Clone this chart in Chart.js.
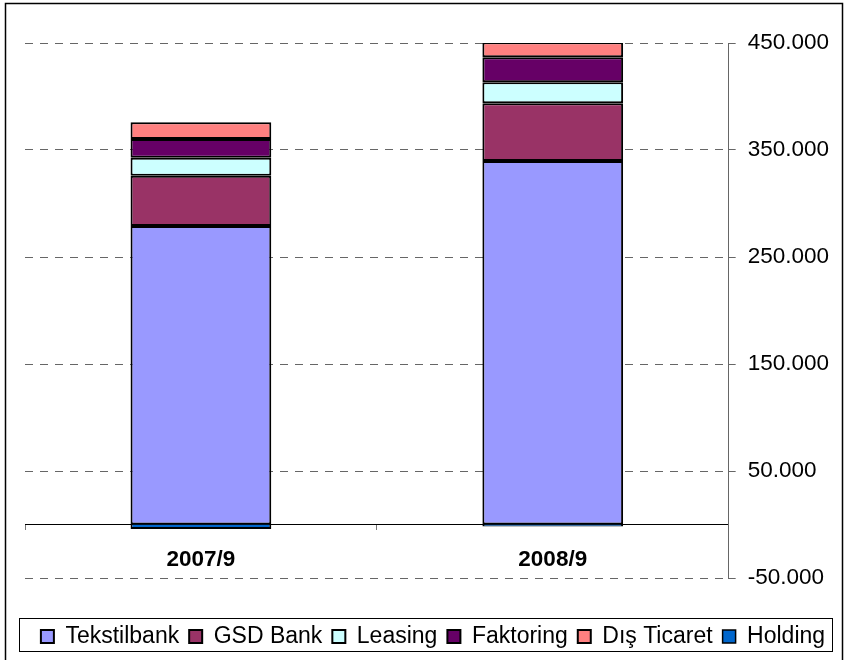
<!DOCTYPE html>
<html>
<head>
<meta charset="utf-8">
<script src="https://cdn.jsdelivr.net/npm/chart.js@4.4.1/dist/chart.umd.min.js"></script>
<style>
html,body{margin:0;padding:0;background:#fff;}
canvas{display:block;}
</style>
</head>
<body>
<canvas id="c" width="846" height="660"></canvas>
<script>
const categories = ['2007/9', '2008/9'];
const tekstilbank = [279000, 339700];
const gsdBank = [47000, 53900];
const leasing = [16800, 19700];
const faktoring = [17500, 23300];
const disTicaret = [15600, 14000];
const holding = [-4200, -1800];
const yTickLabels = ['-50.000', '50.000', '150.000', '250.000', '350.000', '450.000'];

const FONT = "'Liberation Sans', Arial, sans-serif";

function ds(label, data, color, bw) {
  return {
    label: label,
    data: data,
    backgroundColor: color,
    borderColor: '#000',
    borderWidth: bw === undefined ? 2 : bw,
    borderSkipped: false,
    barPercentage: 0.4,
    categoryPercentage: 1.0
  };
}

const framePlugin = {
  id: 'frame',
  afterDraw(chart) {
    const ctx = chart.ctx;
    ctx.save();
    ctx.strokeStyle = '#000';
    ctx.lineWidth = 1.5;
    ctx.strokeRect(5.5, 3.5, 837, 700);
    const lg = chart.legend;
    if (lg && lg.legendHitBoxes && lg.legendHitBoxes.length) {
      const hb = lg.legendHitBoxes;
      let l = Infinity, r = -Infinity, t = Infinity, b = -Infinity;
      hb.forEach(h => {
        l = Math.min(l, h.left); r = Math.max(r, h.left + h.width);
        t = Math.min(t, h.top); b = Math.max(b, h.top + h.height);
      });
      ctx.lineWidth = 1;
      ctx.strokeRect(Math.round(l - 22) + 0.5, Math.round(t - 7) + 0.5, Math.round(r - l + 29), Math.round(b - t + 10));
    }
    ctx.restore();
  }
};

new Chart(document.getElementById('c'), {
  type: 'bar',
  data: {
    labels: categories,
    datasets: [
      ds('Tekstilbank', tekstilbank, '#9999FF'),
      ds('GSD Bank', gsdBank, '#993366'),
      ds('Leasing', leasing, '#CCFFFF'),
      ds('Faktoring', faktoring, '#660066'),
      ds('Dış Ticaret', disTicaret, '#FF8080'),
      ds('Holding', holding, '#0066CC', {top: 0, left: 2, right: 2, bottom: 2})
    ]
  },
  options: {
    responsive: false,
    animation: false,
    devicePixelRatio: 1,
    layout: { padding: { left: 25, right: 5, top: 43, bottom: 2 } },
    scales: {
      x: {
        stacked: true,
        position: { y: 0 },
        grid: { display: true, drawOnChartArea: false, drawTicks: true, tickLength: 5, tickColor: '#777', tickWidth: 1, offset: true },
        border: { display: true, color: '#000', width: 1 },
        ticks: { color: '#000', padding: 17, font: { family: FONT, size: 22.5, weight: 'bold' } }
      },
      y: {
        stacked: true,
        position: 'right',
        min: -50000,
        max: 450000,
        grid: { color: '#666', lineWidth: 1, drawTicks: true, tickLength: 7, tickColor: '#666', tickWidth: 1 },
        border: { display: true, color: '#666', width: 1, dash: [8, 7] },
        ticks: {
          stepSize: 100000,
          color: '#000',
          padding: 12,
          font: { family: FONT, size: 22.5 },
          callback: (v, i) => yTickLabels[i]
        }
      }
    },
    plugins: {
      tooltip: { enabled: false },
      legend: {
        position: 'bottom',
        title: { display: true, text: ' ', padding: { top: 25, bottom: 0 }, font: { size: 10 } },
        labels: {
          boxWidth: 13,
          boxHeight: 13,
          padding: 10,
          color: '#000',
          font: { family: FONT, size: 23 }
        }
      }
    }
  },
  plugins: [framePlugin]
});
</script>
</body>
</html>
